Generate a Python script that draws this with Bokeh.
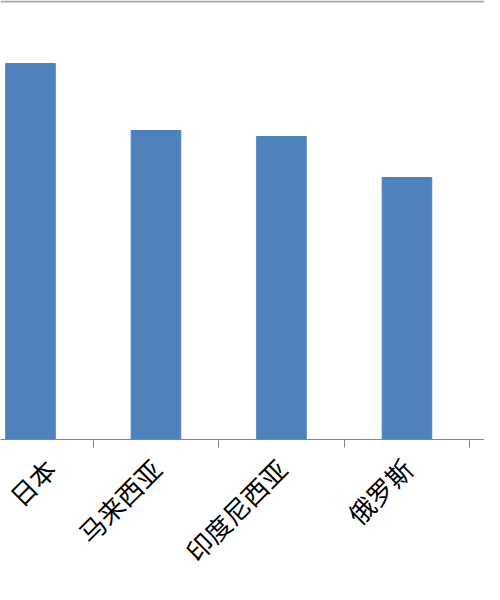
import math
from bokeh.plotting import figure
from bokeh.models import Range1d, FixedTicker, Span
from bokeh.embed import file_html
from bokeh.resources import INLINE

countries = ["日本", "马来西亚", "印度尼西亚", "俄罗斯", "美国"]
values = [376, 309, 303, 262, 250]

centers = [i + 0.5 for i in range(len(countries))]
boundaries = [i + 1 for i in range(len(countries) - 1)]

p = figure(width=484, height=584, output_backend="svg", toolbar_location=None,
           x_range=Range1d(0.261, 4.118), y_range=Range1d(0, 439),
           min_border_left=0, min_border_right=0, min_border_top=0,
           min_border_bottom=145)
p.vbar(x=centers, top=values, width=0.395, fill_color="#4F81BD", line_color="#4F81BD")

p.yaxis.visible = False
p.grid.visible = False
p.outline_line_color = None

ax = p.xaxis[0]
ax.ticker = FixedTicker(ticks=centers, minor_ticks=boundaries)
ax.major_label_overrides = {c: n for c, n in zip(centers, countries)}
ax.major_tick_out = 0
ax.major_tick_in = 0
ax.minor_tick_out = 8
ax.minor_tick_in = 0
ax.minor_tick_line_color = "#868686"
ax.axis_line_color = "#868686"
ax.major_label_orientation = math.pi / 4
ax.major_label_text_font = "Noto Sans CJK SC"
ax.major_label_text_font_size = "26px"
ax.major_label_text_color = "#000000"
ax.major_label_standoff = 16

p.add_layout(Span(location=438, dimension="width", line_color="#A6A6A6", line_width=2))

open("out.html", "w").write(file_html(p, INLINE))
